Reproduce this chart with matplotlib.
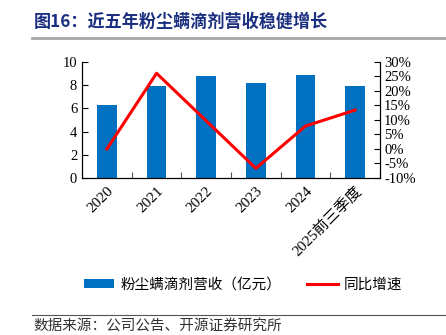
import numpy as np
import matplotlib
matplotlib.use('Agg')
import matplotlib.pyplot as plt
from matplotlib.lines import Line2D

# data
years = ['2020', '2021', '2022', '2023', '2024', '2025前三季度']
revenue = [6.3, 7.95, 8.77, 8.19, 8.85, 7.93]          # 亿元
growth = [0.0, 26.1, 9.7, -6.7, 7.9, 13.4]             # %

cjk = ['Noto Sans CJK SC', 'DejaVu Sans']
serif = ['Liberation Serif', 'Noto Sans CJK SC']
plt.rcParams['font.family'] = serif

fig = plt.figure(figsize=(4.46, 3.35), dpi=100)
ax1 = fig.add_axes([0.184, 0.469, 0.668, 0.346])
ax2 = ax1.twinx()

x = np.arange(len(years))
ax1.bar(x, revenue, width=0.4, color='#0070C0', label='粉尘螨滴剂营收（亿元）', zorder=2)
ax2.plot(x, growth, color='#FF0000', lw=2.2, label='同比增速', zorder=3)

ax1.set_xlim(-0.5, len(years) - 0.5)
ax1.set_ylim(0, 10)
ax1.set_yticks([0, 2, 4, 6, 8, 10])
ax2.set_ylim(-10, 30)
ax2.set_yticks(range(-10, 31, 5))
ax2.set_yticklabels([f'{v}%' for v in range(-10, 31, 5)])

# category ticks between bars, labels at bar centres
ax1.set_xticks(np.arange(len(years) + 1) - 0.5)
ax1.set_xticklabels([])
ax1.set_xticks(x, minor=True)
ax1.set_xticklabels(years, minor=True, rotation=45, ha='right', rotation_mode='anchor', fontsize=11)
ax1.tick_params(axis='x', which='minor', length=0, pad=5)
ax1.tick_params(axis='x', which='major', direction='in', length=4, width=0.8, color='#555555')
ax1.tick_params(axis='y', direction='in', length=4, labelsize=10.5)
ax2.tick_params(axis='y', direction='in', length=4, labelsize=10.5, pad=3)

for ax in (ax1, ax2):
    ax.spines['top'].set_visible(False)
    for s in ('left', 'right', 'bottom'):
        ax.spines[s].set_color('black')
        ax.spines[s].set_linewidth(0.8)

# title, rules and source
fig.text(0.075, 0.935, '图16：近五年粉尘螨滴剂营收稳健增长', family=cjk, fontsize=12.3,
         fontweight='bold', color='#1A2F80', va='center')
fig.add_artist(Line2D([0.072, 1.0], [0.887, 0.887], color='#A6A6A6', lw=2))
fig.add_artist(Line2D([0.072, 1.0], [0.060, 0.060], color='#555555', lw=0.8))
fig.text(0.075, 0.025, '数据来源：公司公告、开源证券研究所', family=cjk, fontsize=10.5,
         color='#333333', va='center')

# legend
h1, l1 = ax1.get_legend_handles_labels()
h2, l2 = ax2.get_legend_handles_labels()
fig.legend(h1 + h2, l1 + l2, loc='center', bbox_to_anchor=(0.545, 0.15), ncol=2,
           frameon=False, prop={'family': cjk, 'size': 10.5}, handlelength=2.1,
           handleheight=0.5, columnspacing=1.8, handletextpad=0.4)

fig.savefig('out.png', dpi=100)
